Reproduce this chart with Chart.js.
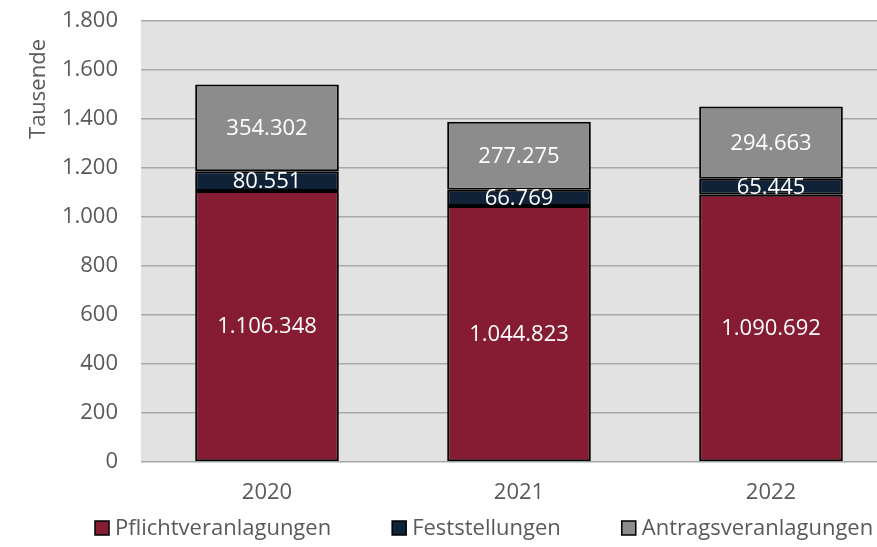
<!DOCTYPE html>
<html>
<head>
<meta charset="utf-8">
<script src="https://cdn.jsdelivr.net/npm/chart.js@4.4.0/dist/chart.umd.min.js"></script>
<style>
  html, body { margin: 0; background: #fff; overflow: hidden; }
  /* the plot runs past the right edge of the original picture */
  #wrap { width: 897px; height: 547px; }
</style>
</head>
<body>
<div id="wrap"><canvas id="chart"></canvas></div>
<script>
// data (in Tausend)
const years = ['2020', '2021', '2022'];
const pflicht = [1106.348, 1044.823, 1090.692];
const feststellungen = [80.551, 66.769, 65.445];
const antrag = [354.302, 277.275, 294.663];
const yTicks = [0, 200, 400, 600, 800, 1000, 1200, 1400, 1600, 1800];

const FONT = "'Open Sans', sans-serif";
const TXT = '#595959';

function deNum(n) {
    return String(n).replace(/\B(?=(\d{3})+(?!\d))/g, '.');
}

// grey plot background
const plotBg = {
    id: 'plotBg',
    beforeDraw: (chart) => {
        const ctx = chart.ctx;
        const a = chart.chartArea;
        ctx.save();
        ctx.fillStyle = '#e2e2e2';
        ctx.fillRect(a.left, a.top, a.right - a.left, a.bottom - a.top);
        ctx.restore();
    }
};

// white value labels in the middle of each segment
const valueLabels = {
    id: 'valueLabels',
    afterDatasetsDraw: (chart) => {
        const ctx = chart.ctx;
        ctx.save();
        ctx.fillStyle = '#fff';
        ctx.font = "22px " + FONT;
        ctx.textAlign = 'center';
        ctx.textBaseline = 'middle';
        chart.data.datasets.forEach((ds, i) => {
            chart.getDatasetMeta(i).data.forEach((bar, j) => {
                const v = Math.round(ds.data[j] * 1000);
                const y = (bar.y + bar.base) / 2;
                ctx.fillText(deNum(v), bar.x, y + 1);
            });
        });
        ctx.restore();
    }
};

// axis title near the top, like the original
const axisTitle = {
    id: 'axisTitle',
    afterDraw: (chart) => {
        const ctx = chart.ctx;
        ctx.save();
        ctx.translate(39, 89);
        ctx.rotate(-Math.PI / 2);
        ctx.font = "22px " + FONT;
        ctx.fillStyle = TXT;
        ctx.textAlign = 'center';
        ctx.textBaseline = 'middle';
        ctx.fillText('Tausende', 0, 0);
        ctx.restore();
    }
};

// legend drawn by hand so the item spacing matches
const bottomLegend = {
    id: 'bottomLegend',
    afterDraw: (chart) => {
        const ctx = chart.ctx;
        const box = 14, gapText = 6, gapItem = 61, y = 528;
        ctx.save();
        ctx.font = "22px " + FONT;
        ctx.textBaseline = 'middle';
        let x = 95;
        chart.data.datasets.forEach(ds => {
            ctx.fillStyle = ds.backgroundColor;
            ctx.fillRect(x, y - box / 2, box, box);
            ctx.strokeStyle = '#000';
            ctx.lineWidth = 1.5;
            ctx.strokeRect(x, y - box / 2, box, box);
            ctx.fillStyle = TXT;
            ctx.fillText(ds.label, x + box + gapText, y + 1);
            x += box + gapText + ctx.measureText(ds.label).width + gapItem;
        });
        ctx.restore();
    }
};

const seg = (label, data, color) => ({
    label: label,
    data: data,
    backgroundColor: color,
    borderColor: '#000',
    borderWidth: 2,
    borderSkipped: false,
    categoryPercentage: 1,
    barPercentage: 0.57
});

const config = {
    type: 'bar',
    data: {
        labels: years,
        datasets: [
            seg('Pflichtveranlagungen', pflicht, '#851c33'),
            seg('Feststellungen', feststellungen, '#0f2238'),
            seg('Antragsveranlagungen', antrag, '#8c8c8c')
        ]
    },
    options: {
        responsive: true,
        maintainAspectRatio: false,
        animation: false,
        layout: { padding: { top: 21, right: 0, left: 0, bottom: 0 } },
        plugins: {
            tooltip: { enabled: false },
            legend: { display: false }
        },
        scales: {
            x: {
                stacked: true,
                grid: { display: false, drawTicks: false },
                border: { display: false },
                ticks: { color: TXT, font: { size: 22, family: FONT }, padding: 18 },
                afterFit: (axis) => { axis.height = 85; }
            },
            y: {
                stacked: true,
                min: 0,
                max: 1800,
                afterBuildTicks: (axis) => { axis.ticks = yTicks.map(v => ({ value: v })); },
                afterFit: (axis) => { axis.width = 141; },
                grid: { color: '#a8a8a8', lineWidth: 1.6, drawTicks: true, tickLength: 23, tickColor: 'rgba(0,0,0,0)' },
                border: { display: false },
                ticks: {
                    color: TXT,
                    font: { size: 22, family: FONT },
                    padding: 0,
                    callback: (v) => deNum(v)
                }
            }
        }
    },
    plugins: [plotBg, valueLabels, axisTitle, bottomLegend]
};

new Chart(document.getElementById('chart'), config);
</script>
</body>
</html>
